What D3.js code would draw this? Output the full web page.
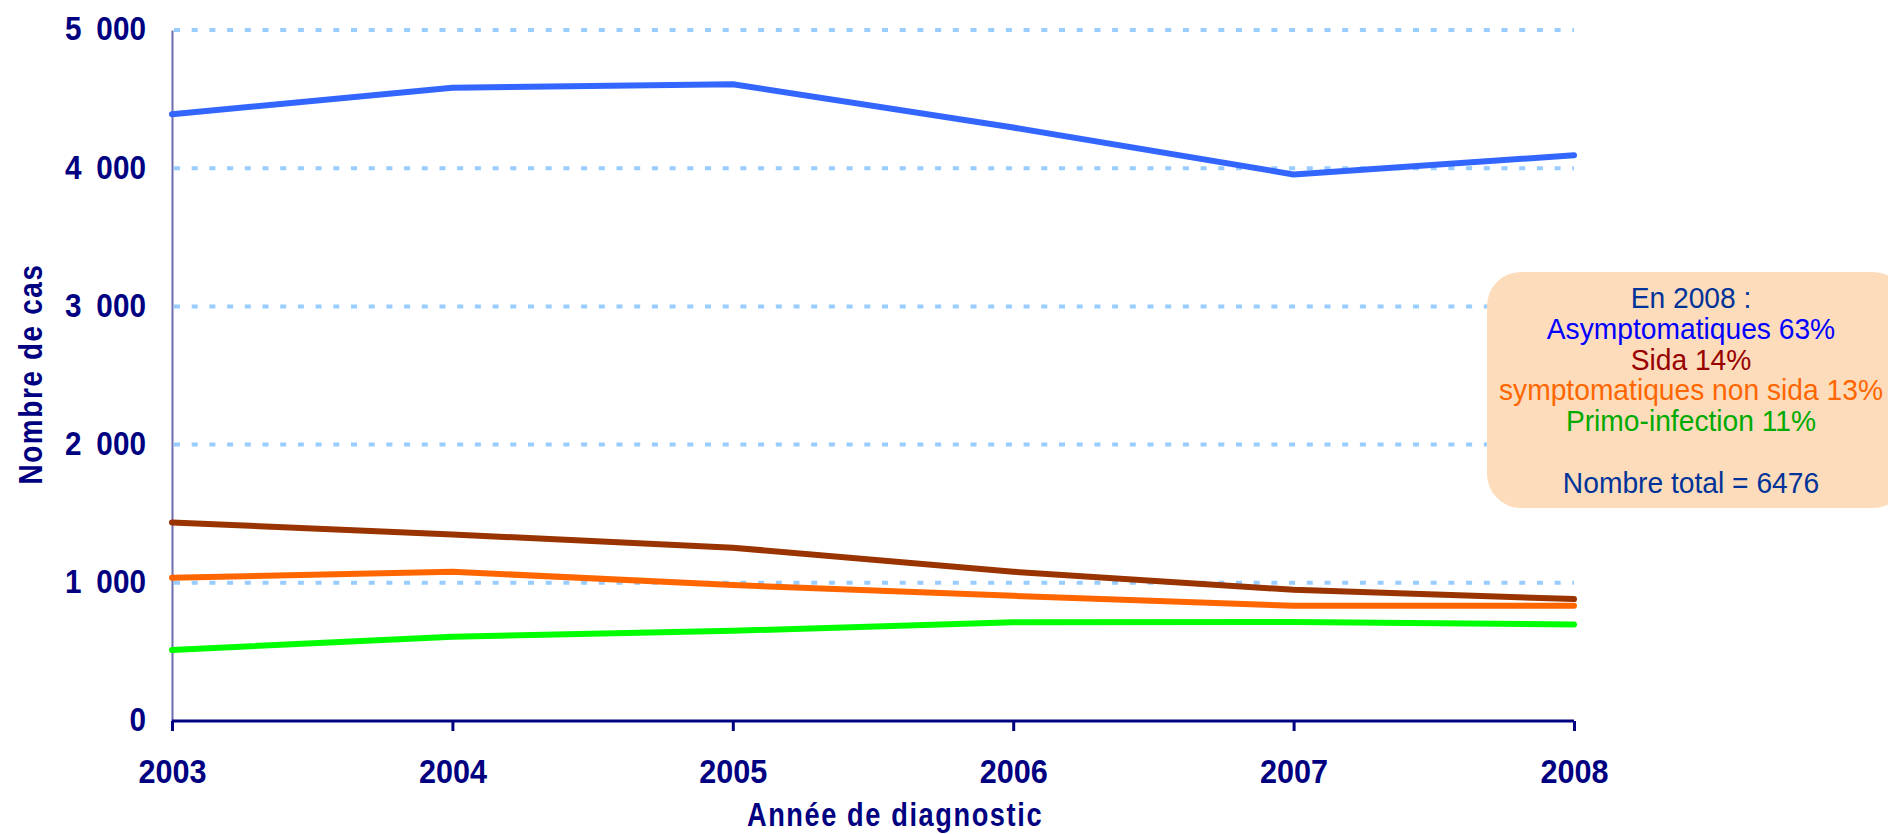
<!DOCTYPE html>
<html>
<head>
<meta charset="utf-8">
<script src="https://cdn.jsdelivr.net/npm/d3@7"></script>
<style>
	body { margin: 0; background: #fff; }
	svg text { font-family: "Liberation Sans", Arial, sans-serif; }
</style>
</head>
<body>
<div id="chart"></div>
<script>
// Cas de VIH par stade clinique au diagnostic, 2003-2008

let years 		= [ 2003, 2004, 2005, 2006, 2007, 2008 ] ;
let yTicks 		= [ 0, 1000, 2000, 3000, 4000, 5000 ] ;

let asympto 	= [ 4390, 4582, 4608, 4294, 3955, 4094 ] ;
let sida 		= [ 1437, 1350, 1254, 1080,  949,  882 ] ;
let sympto 		= [ 1037, 1080,  984,  906,  834,  834 ] ;
let primo 		= [  514,  610,  653,  714,  716,  699 ] ;

let seriesNames = [ "Asymptomatiques", "Sida", "symptomatiques non sida", "Primo-infection" ] ;
let seriesColors = [ "#3366ff", "#993300", "#ff6600", "#00ff00" ] ;

let boxLines = [
	{ 'text': "En 2008 :", 'color': "#003399" },
	{ 'text': "Asymptomatiques 63%", 'color': "#0000ff" },
	{ 'text': "Sida 14%", 'color': "#990000" },
	{ 'text': "symptomatiques non sida 13%", 'color': "#ff6600" },
	{ 'text': "Primo-infection 11%", 'color': "#00aa00" },
	{ 'text': "", 'color': "#003399" },
	{ 'text': "Nombre total = 6476", 'color': "#003399" }
] ;

let svgwidth 	= 1888 ;
let svgheight 	= 834 ;

let margin 	= {
	'top': 30,
	'right': 314,
	'bottom': 113,
	'left': 172
};

let navy = "#000080" ;

let svg = d3.select("#chart").append("svg")
	.attr("width", svgwidth)
	.attr("height", svgheight) ;

let x = d3.scaleLinear()
	.domain([ 2003, 2008 ])
	.range([ margin.left, svgwidth - margin.right ]) ;

let y = d3.scaleLinear()
	.domain([ 0, 5000 ])
	.range([ svgheight - margin.bottom, margin.top ]) ;

// dotted gridlines
svg.append("g")
	.selectAll("line")
	.data(yTicks.filter(d => d > 0))
	.join("line")
	.attr("x1", x(2003) + 2)
	.attr("x2", x(2008))
	.attr("y1", d => y(d))
	.attr("y2", d => y(d))
	.attr("stroke", "#99ccff")
	.attr("stroke-width", 4)
	.attr("stroke-dasharray", "6 11.7") ;

// Y axis (condensed look: squeeze text horizontally)
let yAxis = svg.append("g")
	.attr("transform", "translate(" + x(2003) + ",0)")
	.call(d3.axisLeft(y).tickValues(yTicks).tickSize(0).tickPadding(29)
		.tickFormat(d => d3.format(",")(d).replace(",", "\u2002"))) ;
yAxis.select(".domain").attr("stroke", "#6d6db0").attr("stroke-width", 2) ;
yAxis.selectAll("text")
	.attr("fill", navy)
	.attr("font-size", 33)
	.attr("font-weight", "bold")
	.attr("dy", "0.3em")
	.attr("transform", "scale(0.9,1)") ;

// X axis
let xAxis = svg.append("g")
	.attr("transform", "translate(0," + y(0) + ")")
	.call(d3.axisBottom(x).tickValues(years).tickFormat(d3.format("d")).tickSize(10).tickPadding(28)) ;
xAxis.select(".domain").attr("stroke", navy).attr("stroke-width", 3).attr("d", "M" + x(2003) + ",0H" + x(2008)) ;
xAxis.selectAll(".tick line").attr("stroke", navy).attr("stroke-width", 3) ;
xAxis.selectAll("text")
	.attr("fill", navy)
	.attr("font-size", 34)
	.attr("font-weight", "bold")
	.attr("transform", "scale(0.9,1)") ;

// axis titles
svg.append("text")
	.attr("transform", "translate(" + ((x(2003) + x(2008)) / 2 + 22) + ",826) scale(0.8,1)")
	.attr("text-anchor", "middle")
	.attr("fill", navy)
	.attr("font-size", 34)
	.attr("font-weight", "bold")
	.attr("letter-spacing", 2)
	.text("Année de diagnostic") ;

svg.append("text")
	.attr("transform", "translate(42,374) rotate(-90) scale(0.82,1)")
	.attr("text-anchor", "middle")
	.attr("fill", navy)
	.attr("font-size", 34)
	.attr("font-weight", "bold")
	.attr("letter-spacing", 2)
	.text("Nombre de cas") ;

// the lines
let allSeries = [ asympto, sida, sympto, primo ] ;
let line = d3.line()
	.x((d, i) => x(years[i]))
	.y(d => y(d)) ;

svg.append("g")
	.selectAll("path")
	.data(allSeries)
	.join("path")
	.attr("fill", "none")
	.attr("stroke", (d, i) => seriesColors[i])
	.attr("stroke-width", 6)
	.attr("stroke-linecap", "round")
	.attr("stroke-linejoin", "round")
	.attr("d", line) ;

// annotation box
let box = svg.append("g") ;
box.append("rect")
	.attr("x", 1487)
	.attr("y", 272)
	.attr("width", 420)
	.attr("height", 236)
	.attr("rx", 34)
	.attr("fill", "#fddcbb") ;

box.selectAll("text")
	.data(boxLines)
	.join("text")
	.attr("transform", (d, i) => "translate(1691," + (308 + i * 30.8) + ") scale(0.94,1)")
	.attr("text-anchor", "middle")
	.attr("font-size", 30)
	.attr("fill", d => d.color)
	.text(d => d.text) ;
</script>
</body>
</html>
